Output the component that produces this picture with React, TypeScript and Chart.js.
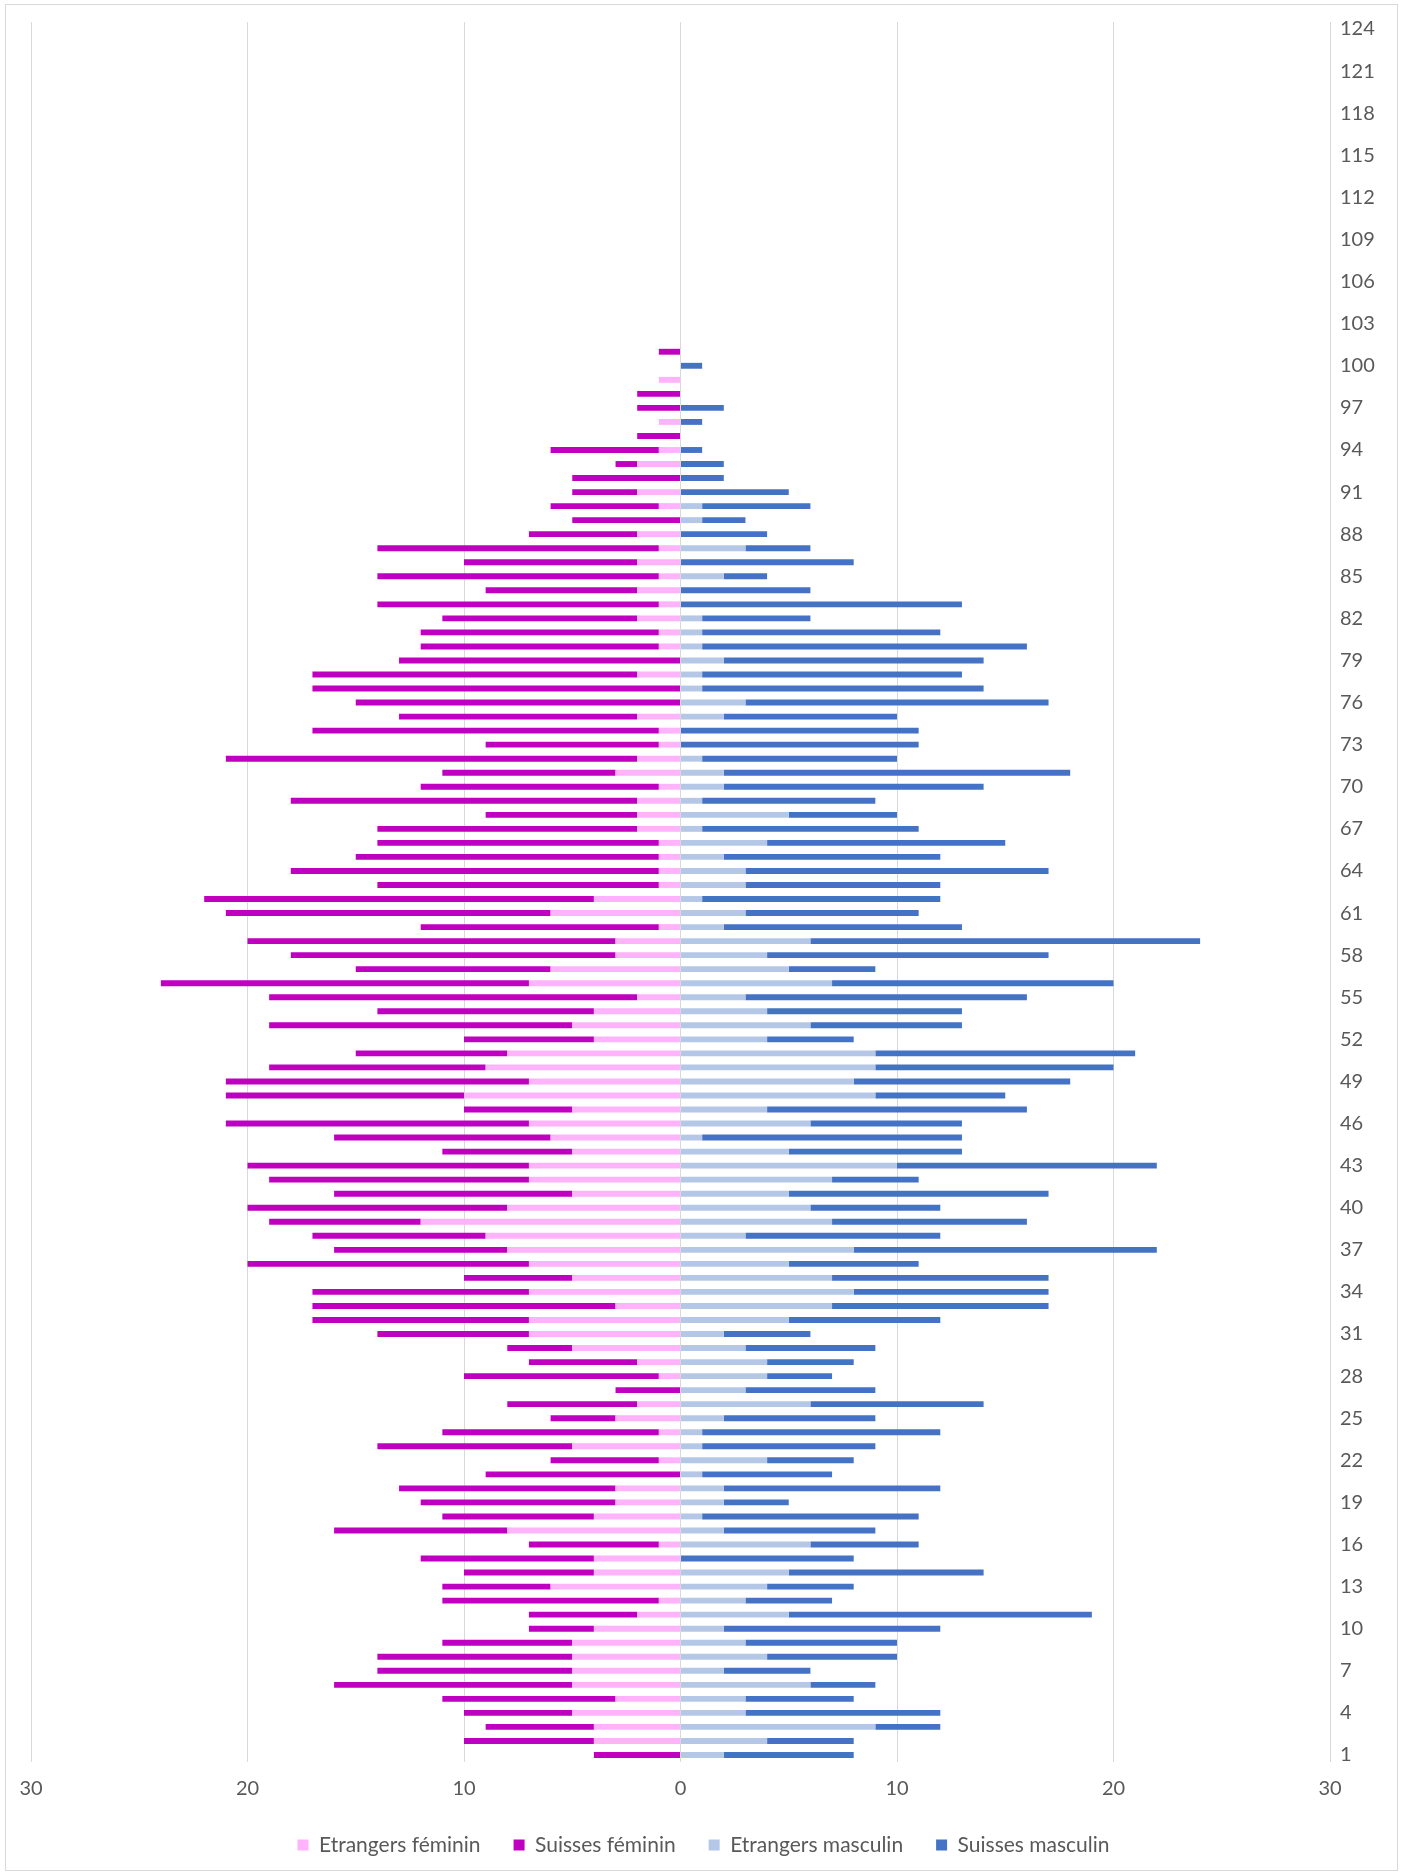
import React, { useEffect, useRef } from "react";
import { Chart, registerables } from "chart.js";

Chart.register(...registerables);

// Age categories 1..124 (bottom to top)
const AGES: string[] = Array.from({ length: 124 }, (_, i) => String(i + 1));

// Values for ages 1..101 (counts of persons)
const ETRANGERS_FEMININ = [
  0, 4, 4, 5, 3, 5, 5, 5, 5, 4,
  2, 1, 6, 4, 4, 1, 8, 4, 3, 3,
  0, 1, 5, 1, 3, 2, 0, 1, 2, 5,
  7, 7, 3, 7, 5, 7, 8, 9, 12, 8,
  5, 7, 7, 5, 6, 7, 5, 10, 7, 9,
  8, 4, 5, 4, 2, 7, 6, 3, 3, 1,
  6, 4, 1, 1, 1, 1, 2, 2, 2, 1,
  3, 2, 1, 1, 2, 0, 0, 2, 0, 1,
  1, 2, 1, 2, 1, 2, 1, 2, 0, 1,
  2, 0, 2, 1, 0, 1, 0, 0, 1, 0,
  0,
];

const SUISSES_FEMININ = [
  4, 6, 5, 5, 8, 11, 9, 9, 6, 3,
  5, 10, 5, 6, 8, 6, 8, 7, 9, 10,
  9, 5, 9, 10, 3, 6, 3, 9, 5, 3,
  7, 10, 14, 10, 5, 13, 8, 8, 7, 12,
  11, 12, 13, 6, 10, 14, 5, 11, 14, 10,
  7, 6, 14, 10, 17, 17, 9, 15, 17, 11,
  15, 18, 13, 17, 14, 13, 12, 7, 16, 11,
  8, 19, 8, 16, 11, 15, 17, 15, 13, 11,
  11, 9, 13, 7, 13, 8, 13, 5, 5, 5,
  3, 5, 1, 5, 2, 0, 2, 2, 0, 0,
  1,
];

const ETRANGERS_MASCULIN = [
  2, 4, 9, 3, 3, 6, 2, 4, 3, 2,
  5, 3, 4, 5, 0, 6, 2, 1, 2, 2,
  1, 4, 1, 1, 2, 6, 3, 4, 4, 3,
  2, 5, 7, 8, 7, 5, 8, 3, 7, 6,
  5, 7, 10, 5, 1, 6, 4, 9, 8, 9,
  9, 4, 6, 4, 3, 7, 5, 4, 6, 2,
  3, 1, 3, 3, 2, 4, 1, 5, 1, 2,
  2, 1, 0, 0, 2, 3, 1, 1, 2, 1,
  1, 1, 0, 0, 2, 0, 3, 0, 1, 1,
  0, 0, 0, 0, 0, 0, 0, 0, 0, 0,
  0,
];

const SUISSES_MASCULIN = [
  6, 4, 3, 9, 5, 3, 4, 6, 7, 10,
  14, 4, 4, 9, 8, 5, 7, 10, 3, 10,
  6, 4, 8, 11, 7, 8, 6, 3, 4, 6,
  4, 7, 10, 9, 10, 6, 14, 9, 9, 6,
  12, 4, 12, 8, 12, 7, 12, 6, 10, 11,
  12, 4, 7, 9, 13, 13, 4, 13, 18, 11,
  8, 11, 9, 14, 10, 11, 10, 5, 8, 12,
  16, 9, 11, 11, 8, 14, 13, 12, 12, 15,
  11, 5, 13, 6, 2, 8, 3, 4, 2, 5,
  5, 2, 2, 1, 0, 1, 2, 0, 0, 1,
  0,
];

const SERIES_LABELS = ["Etrangers féminin", "Suisses féminin", "Etrangers masculin", "Suisses masculin"];
const SERIES_COLORS = ["#FFB3FB", "#C000C0", "#B4C7E7", "#4472C4"];

const X_MIN = -30;
const X_MAX = 30;
const X_STEP = 10;

export default function App() {
  const ref = useRef<HTMLCanvasElement>(null);

  useEffect(() => {
    const canvas = ref.current;
    if (!canvas) return;
    const FONT = "Lato, 'Liberation Sans', sans-serif";
    const TEXT = "#595959";
    const chart = new Chart(canvas, {
      type: "bar",
      data: {
        labels: AGES,
        datasets: [
          { label: SERIES_LABELS[0], data: ETRANGERS_FEMININ.map((v) => -v), backgroundColor: SERIES_COLORS[0] },
          { label: SERIES_LABELS[1], data: SUISSES_FEMININ.map((v) => -v), backgroundColor: SERIES_COLORS[1] },
          { label: SERIES_LABELS[2], data: ETRANGERS_MASCULIN, backgroundColor: SERIES_COLORS[2] },
          { label: SERIES_LABELS[3], data: SUISSES_MASCULIN, backgroundColor: SERIES_COLORS[3] },
        ],
      },
      options: {
        indexAxis: "y",
        responsive: false,
        animation: false,
        devicePixelRatio: 1,
        datasets: { bar: { barPercentage: 0.42, categoryPercentage: 1 } },
        layout: { padding: { left: 31, right: 26, top: 20, bottom: 8.5 } },
        plugins: {
          legend: {
            position: "bottom",
            labels: {
              boxWidth: 11,
              boxHeight: 11,
              padding: 33,
              color: TEXT,
              font: { family: FONT, size: 21 },
            },
          },
          tooltip: { enabled: false },
        },
        scales: {
          x: {
            stacked: true,
            min: X_MIN,
            max: X_MAX,
            ticks: {
              stepSize: X_STEP,
              callback: (v: any) => String(Math.abs(Number(v))),
              color: TEXT,
              font: { family: FONT, size: 20 },
              padding: 15,
            },
            grid: { color: "#d9d9d9", drawTicks: false },
            border: { display: false },
            afterFit: (s: any) => {
              s.height = 39.5;
            },
          },
          y: {
            stacked: true,
            position: "right",
            reverse: true,
            grid: { display: false, drawTicks: false },
            border: { display: false },
            ticks: {
              autoSkip: false,
              padding: 10,
              color: TEXT,
              font: { family: FONT, size: 20 },
              callback: (_v: any, index: number) => (index % 3 === 0 ? AGES[index] : ""),
            },
            afterFit: (s: any) => {
              s.width = 46;
            },
          },
        },
      },
    } as any);
    return () => chart.destroy();
  }, []);

  return (
    <div style={{ position: "absolute", left: 0, top: 0, width: 1402, height: 1874, background: "#fff" }}>
      <div
        style={{
          position: "absolute",
          left: 5,
          top: 4,
          width: 1391,
          height: 1865,
          border: "1px solid #d9d9d9",
        }}
      />
      <canvas ref={ref} width={1402} height={1874} style={{ position: "absolute", left: 0, top: 0 }} />
    </div>
  );
}
